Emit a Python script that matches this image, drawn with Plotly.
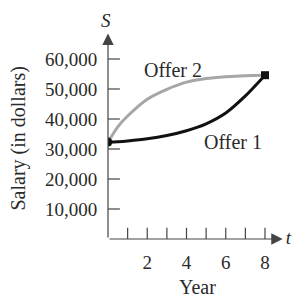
import plotly.graph_objects as go

years = [0, 0.5, 1, 2, 3, 4, 5, 6, 7, 8]
offer1 = [32300, 32450, 32700, 33400, 34500, 36100, 38400, 42000, 47700, 54600]
offer2 = [32300, 37400, 41000, 46600, 49900, 52300, 53500, 54100, 54450, 54600]
x_ticks = [1, 2, 3, 4, 5, 6, 7, 8]
x_labels = ["", "2", "", "4", "", "6", "", "8"]
y_ticks = [10000, 20000, 30000, 40000, 50000, 60000]
y_labels = ["10,000", "20,000", "30,000", "40,000", "50,000", "60,000"]

FONT = "Liberation Serif"
TXT = "#2a2a2a"
AX = "#444444"

# page has an 8px body margin; figure sized to fill the remaining window
OFF = 8
W, H = 300 - OFF, 297 - OFF
X0, Y0 = 108, 239          # page position of the origin
L, T = X0 - OFF, 0
R = 0
B = H - (Y0 - OFF)
pw, ph = W - L - R, H - T - B
xmax = pw / 19.625
ymax = ph / 0.003

fig = go.Figure()

# crossing tick marks
fig.add_trace(go.Scatter(x=x_ticks, y=[0] * len(x_ticks), mode="markers",
                         marker=dict(symbol="line-ns", size=16, line=dict(color=AX, width=1.2)),
                         hoverinfo="skip", showlegend=False))
fig.add_trace(go.Scatter(x=[0] * len(y_ticks), y=y_ticks, mode="markers",
                         marker=dict(symbol="line-ew", size=17, line=dict(color=AX, width=1.2)),
                         hoverinfo="skip", showlegend=False))

fig.add_trace(go.Scatter(x=years, y=offer2, mode="lines",
                         line=dict(color="#a6a6a6", width=3, shape="spline", smoothing=0.8),
                         showlegend=False))
fig.add_trace(go.Scatter(x=years, y=offer1, mode="lines",
                         line=dict(color="#111111", width=3, shape="spline", smoothing=0.8),
                         showlegend=False))
fig.add_trace(go.Scatter(x=[years[0]], y=[offer1[0]], mode="markers",
                         marker=dict(symbol="circle", size=9, color="#111111"),
                         showlegend=False))
fig.add_trace(go.Scatter(x=[years[-1]], y=[offer1[-1]], mode="markers",
                         marker=dict(symbol="square", size=8, color="#111111"),
                         showlegend=False))

# axis name "t" at the end of the horizontal arrow
fig.add_trace(go.Scatter(x=[(288.5 - X0) / 19.625], y=[0], mode="text", text=["<i>t</i>"],
                         textposition="middle center", cliponaxis=False,
                         textfont=dict(family=FONT, size=19, color=TXT),
                         hoverinfo="skip", showlegend=False))

def px_x(page_x):
    return (page_x - X0) / pw

def px_y(page_y):
    return (Y0 - page_y) / ph

annotations = [
    # axis arrows
    dict(x=8.9, y=0, ax=0, ay=0, xref="x", yref="y", axref="x", ayref="y",
         showarrow=True, arrowhead=2, arrowsize=1.9, arrowwidth=1.2, arrowcolor=AX, text=""),
    dict(x=0, y=68500, ax=0, ay=0, xref="x", yref="y", axref="x", ayref="y",
         showarrow=True, arrowhead=2, arrowsize=1.9, arrowwidth=1.2, arrowcolor=AX, text=""),
    dict(x=px_x(106), y=px_y(21), xref="paper", yref="paper", text="<i>S</i>",
         showarrow=False, xanchor="center", yanchor="middle",
         font=dict(family=FONT, size=19, color=TXT)),
    dict(x=px_x(172.5), y=px_y(70), xref="paper", yref="paper", text="Offer 2",
         showarrow=False, xanchor="center", yanchor="middle",
         font=dict(family=FONT, size=20, color=TXT)),
    dict(x=px_x(232.5), y=px_y(141.5), xref="paper", yref="paper", text="Offer 1",
         showarrow=False, xanchor="center", yanchor="middle",
         font=dict(family=FONT, size=20, color=TXT)),
    dict(x=px_x(197), y=px_y(287), xref="paper", yref="paper", text="Year",
         showarrow=False, xanchor="center", yanchor="middle",
         font=dict(family=FONT, size=20, color=TXT)),
    dict(x=px_x(18), y=px_y(138.5), xref="paper", yref="paper",
         text="Salary (in dollars)", textangle=-90, showarrow=False,
         xanchor="center", yanchor="middle",
         font=dict(family=FONT, size=20, color=TXT)),
]

fig.update_layout(
    width=W, height=H,
    margin=dict(l=L, r=R, t=T, b=B, pad=0),
    plot_bgcolor="white", paper_bgcolor="white",
    annotations=annotations,
    xaxis=dict(range=[0, xmax], showgrid=False, zeroline=False, showline=False,
               tickvals=x_ticks, ticktext=x_labels, ticks="outside", ticklen=6,
               tickcolor="rgba(0,0,0,0)", tickfont=dict(family=FONT, size=19, color=TXT),
               automargin=False),
    yaxis=dict(range=[0, ymax], showgrid=False, zeroline=False, showline=False,
               tickvals=y_ticks, ticktext=y_labels, ticks="outside", ticklen=6,
               tickcolor="rgba(0,0,0,0)", tickfont=dict(family=FONT, size=19, color=TXT),
               automargin=False),
)

fig.write_html("out.html")
